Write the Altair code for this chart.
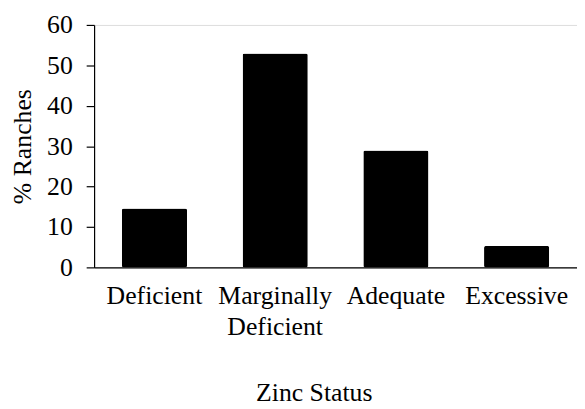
import altair as alt
import pandas as pd

categories = ["Deficient", "Marginally Deficient", "Adequate", "Excessive"]
values = [14.6, 52.9, 28.9, 5.3]
y_ticks = [0, 10, 20, 30, 40, 50, 60]

df = pd.DataFrame({"status": categories, "pct": values})

label_expr = (
    "datum.value == 'Marginally Deficient' ? ['Marginally', 'Deficient'] : datum.value"
)

FONT = "Liberation Serif"
FS = 26

chart = (
    alt.Chart(df)
    .mark_bar(color="black", cornerRadius=2)
    .encode(
        x=alt.X(
            "status:N",
            sort=categories,
            scale=alt.Scale(paddingInner=0.46, paddingOuter=0.23),
            axis=alt.Axis(
                title="Zinc Status",
                labelAngle=0,
                labelExpr=label_expr,
                labelFont=FONT,
                labelFontSize=FS,
                labelColor="black",
                labelPadding=16,
                labelLineHeight=31,
                labelBaseline="top",
                ticks=False,
                tickSize=0,
                domainColor="black",
                domainWidth=1.2,
                titleFont=FONT,
                titleFontSize=FS,
                titleFontWeight="normal",
                titleColor="black",
                titleX=222,
                titleY=135,
                titleBaseline="alphabetic",
                titleAlign="center",
            ),
        ),
        y=alt.Y(
            "pct:Q",
            scale=alt.Scale(domain=[0, 60], nice=False),
            axis=alt.Axis(
                title="% Ranches",
                values=y_ticks,
                grid=False,
                labelFont=FONT,
                labelFontSize=FS,
                labelColor="black",
                labelPadding=14,
                tickSize=8,
                tickColor="black",
                tickWidth=1.2,
                domainColor="black",
                domainWidth=1.2,
                titleFont=FONT,
                titleFontSize=FS,
                titleFontWeight="normal",
                titleColor="black",
                titleX=-72,
                titleBaseline="middle",
                titleAngle=-90,
            ),
        ),
    )
    .properties(
        width=488,
        height=245,
        padding={"left": 87, "top": 15, "right": 0, "bottom": 141},
        autosize=alt.AutoSizeParams(type="none"),
    )
    .configure_view(stroke=None)
    .configure(background="white")
)

chart.save("out.html", embed_options={"renderer": "svg", "actions": False})
